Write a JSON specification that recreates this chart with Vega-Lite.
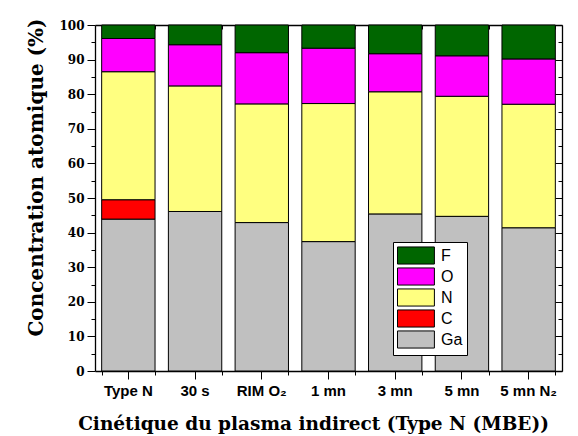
{
  "$schema": "https://vega.github.io/schema/vega-lite/v6.json",
  "autosize": {"type": "none"},
  "padding": {"left": 95, "top": 25, "right": 16, "bottom": 65},
  "width": 467,
  "height": 346,
  "background": "white",
  "config": {"view": {"stroke": null}},
  "data": {
    "values": [
      {"cat": "Type N", "el": "Ga", "v": 43.9, "k": 1},
      {"cat": "Type N", "el": "C", "v": 5.6, "k": 2},
      {"cat": "Type N", "el": "N", "v": 37.0, "k": 3},
      {"cat": "Type N", "el": "O", "v": 9.6, "k": 4},
      {"cat": "Type N", "el": "F", "v": 3.9, "k": 5},
      {"cat": "30 s", "el": "Ga", "v": 46.1, "k": 1},
      {"cat": "30 s", "el": "N", "v": 36.3, "k": 3},
      {"cat": "30 s", "el": "O", "v": 11.9, "k": 4},
      {"cat": "30 s", "el": "F", "v": 5.7, "k": 5},
      {"cat": "RIM O₂", "el": "Ga", "v": 42.9, "k": 1},
      {"cat": "RIM O₂", "el": "N", "v": 34.3, "k": 3},
      {"cat": "RIM O₂", "el": "O", "v": 14.8, "k": 4},
      {"cat": "RIM O₂", "el": "F", "v": 8.0, "k": 5},
      {"cat": "1 mn", "el": "Ga", "v": 37.4, "k": 1},
      {"cat": "1 mn", "el": "N", "v": 39.9, "k": 3},
      {"cat": "1 mn", "el": "O", "v": 16.0, "k": 4},
      {"cat": "1 mn", "el": "F", "v": 6.7, "k": 5},
      {"cat": "3 mn", "el": "Ga", "v": 45.4, "k": 1},
      {"cat": "3 mn", "el": "N", "v": 35.3, "k": 3},
      {"cat": "3 mn", "el": "O", "v": 11.0, "k": 4},
      {"cat": "3 mn", "el": "F", "v": 8.3, "k": 5},
      {"cat": "5 mn", "el": "Ga", "v": 44.7, "k": 1},
      {"cat": "5 mn", "el": "N", "v": 34.7, "k": 3},
      {"cat": "5 mn", "el": "O", "v": 11.7, "k": 4},
      {"cat": "5 mn", "el": "F", "v": 8.9, "k": 5},
      {"cat": "5 mn N₂", "el": "Ga", "v": 41.4, "k": 1},
      {"cat": "5 mn N₂", "el": "N", "v": 35.7, "k": 3},
      {"cat": "5 mn N₂", "el": "O", "v": 13.1, "k": 4},
      {"cat": "5 mn N₂", "el": "F", "v": 9.8, "k": 5}
    ]
  },
  "resolve": {"axis": {"x": "independent", "y": "independent"}},
  "layer": [
    {
      "mark": {"type": "bar", "stroke": "black", "strokeWidth": 1},
      "encoding": {
        "x": {
          "field": "cat", "type": "nominal",
          "sort": ["Type N", "30 s", "RIM O₂", "1 mn", "3 mn", "5 mn", "5 mn N₂"],
          "scale": {"paddingInner": 0.2, "paddingOuter": 0.1},
          "axis": {
            "orient": "bottom", "labelAngle": 0, "labelFont": "Liberation Sans", "labelFontWeight": "bold",
            "labelFontSize": 15, "labelColor": "black", "labelPadding": 4, "tickSize": 8, "tickColor": "black",
            "domainColor": "black", "domainWidth": 1.3,
            "title": "Cinétique du plasma indirect (Type N (MBE))",
            "titleFont": "DejaVu Serif", "titleFontWeight": "bold", "titleFontSize": 18.5, "titleColor": "black",
            "titlePadding": 16, "titleX": 218, "titleAnchor": "middle"
          }
        },
        "y": {
          "field": "v", "type": "quantitative", "stack": "zero",
          "scale": {"domain": [0, 100], "nice": false},
          "axis": {
            "orient": "left",
            "values": [0,5,10,15,20,25,30,35,40,45,50,55,60,65,70,75,80,85,90,95,100],
            "labelExpr": "datum.value % 10 === 0 ? datum.label : ''",
            "tickSize": {"condition": {"test": "datum.value % 10 === 0", "value": 8}, "value": 4},
            "labelFont": "DejaVu Serif", "labelFontWeight": "bold", "labelFontSize": 12, "labelColor": "black",
            "labelPadding": 3, "tickColor": "black", "domainColor": "black", "domainWidth": 1.3, "grid": false,
            "title": "Concentration atomique (%)",
            "titleFont": "DejaVu Serif", "titleFontWeight": "bold", "titleFontSize": 20, "titleColor": "black",
            "titlePadding": 12, "titleY": 152, "titleAnchor": "middle"
          }
        },
        "color": {
          "field": "el", "type": "nominal",
          "scale": {"domain": ["F", "O", "N", "C", "Ga"], "range": ["#006600", "#ff00ff", "#ffff80", "#ff0000", "#c0c0c0"]},
          "legend": {
            "title": null, "orient": "none", "legendX": 298, "legendY": 217,
            "symbolType": "M-1,-0.95H3.1V0.95H-1Z", "symbolSize": 324, "symbolStrokeColor": "black", "symbolStrokeWidth": 1,
            "symbolOpacity": 1,
            "labelFont": "Liberation Sans", "labelFontSize": 16, "labelColor": "black", "labelOffset": 25,
            "rowPadding": -2, "padding": 4, "strokeColor": "black", "fillColor": "white"
          }
        },
        "order": {"field": "k", "type": "quantitative", "sort": "ascending"}
      }
    },
    {
      "mark": {"type": "point", "opacity": 0},
      "encoding": {
        "x": {"field": "cat", "type": "nominal",
          "sort": ["Type N", "30 s", "RIM O₂", "1 mn", "3 mn", "5 mn", "5 mn N₂"],
          "axis": {"orient": "top", "labels": false, "title": null, "tickSize": -7, "tickColor": "black", "domainColor": "black", "domainWidth": 1.3}},
        "y": {"field": "v", "type": "quantitative", "scale": {"domain": [0, 100], "nice": false},
          "axis": {"orient": "right", "labels": false, "title": null, "grid": false,
            "values": [0,5,10,15,20,25,30,35,40,45,50,55,60,65,70,75,80,85,90,95,100],
            "tickSize": {"condition": {"test": "datum.value % 10 === 0", "value": -7}, "value": -4},
            "tickColor": "black", "domainColor": "black", "domainWidth": 1.3}}
      }
    },
    {
      "mark": {"type": "point", "opacity": 0},
      "encoding": {
        "x": {"field": "cat", "type": "nominal",
          "sort": ["Type N", "30 s", "RIM O₂", "1 mn", "3 mn", "5 mn", "5 mn N₂"],
          "axis": {"orient": "bottom", "labels": false, "title": null, "tickBand": "extent", "tickSize": 4, "tickColor": "black", "domain": false}},
        "y": {"field": "v", "type": "quantitative", "scale": {"domain": [0, 100], "nice": false}, "axis": null}
      }
    },
    {
      "mark": {"type": "point", "opacity": 0},
      "encoding": {
        "x": {"field": "cat", "type": "nominal",
          "sort": ["Type N", "30 s", "RIM O₂", "1 mn", "3 mn", "5 mn", "5 mn N₂"],
          "axis": {"orient": "top", "labels": false, "title": null, "tickBand": "extent", "tickSize": -4, "tickColor": "black", "domain": false}},
        "y": {"field": "v", "type": "quantitative", "scale": {"domain": [0, 100], "nice": false}, "axis": null}
      }
    }
  ]
}
